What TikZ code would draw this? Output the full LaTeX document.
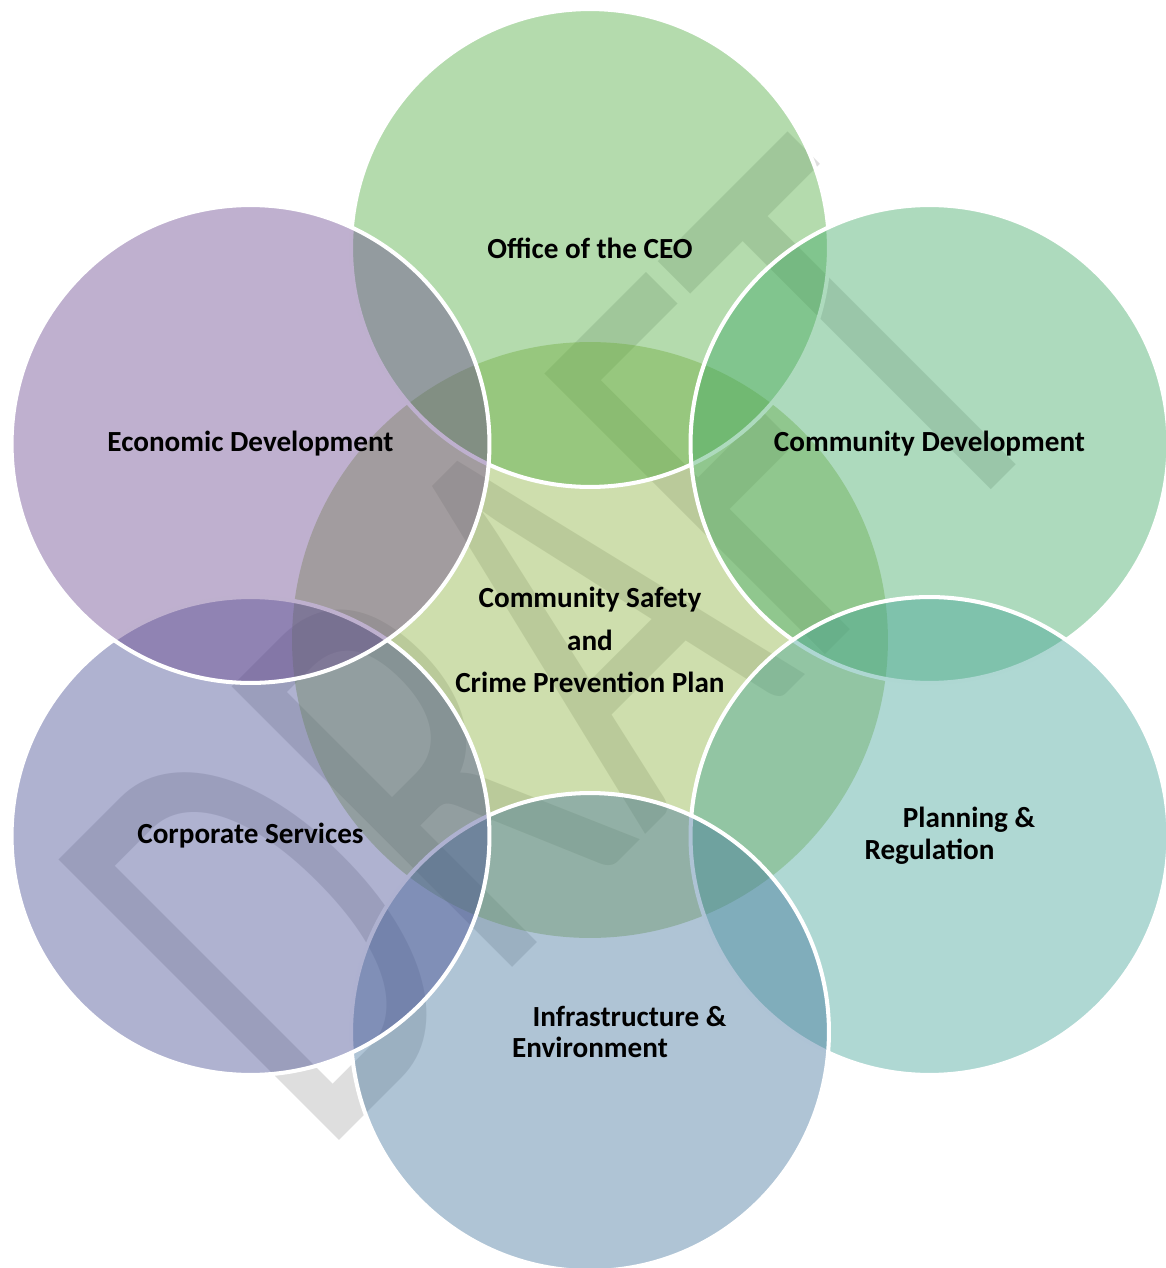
\documentclass[tikz,border=0pt]{standalone}
\usepackage{fontspec}
\setmainfont{Carlito}
\newfontfamily\wmfont{Carlito}

\definecolor{wmgray}{RGB}{222,222,222}
\definecolor{hubgreen}{RGB}{138,176,60}
\definecolor{ceogreen}{RGB}{76,169,60}
\definecolor{commgreen}{RGB}{60,167,98}
\definecolor{planteal}{RGB}{64,162,150}
\definecolor{infrablue}{RGB}{64,114,155}
\definecolor{corpblue}{RGB}{64,71,143}
\definecolor{econpurple}{RGB}{102,67,140}

\begin{document}
\begin{tikzpicture}[
        x=0.02cm, y=0.02cm,
        every node/.style={font=\bfseries\fontsize{16.6}{18.1}\selectfont, align=center},
        watermark/.style={rotate=45, inner sep=0pt, text=wmgray, font=\wmfont\fontsize{352}{352}\selectfont},
        hub/.style={circle, inner sep=0pt, minimum size=11.92cm, fill=hubgreen, fill opacity=0.42, text opacity=1,
            font=\bfseries\fontsize{16.6}{24.4}\selectfont},
        unit/.style={circle, inner sep=0pt, minimum size=9.56cm, draw=white, line width=2.3pt, fill opacity=0.42, text opacity=1}
    ]
        \useasboundingbox (-590,-628) rectangle (576,640);
        \clip (-590,-628) rectangle (576,640);

        % Watermark behind everything
        \node[watermark] (draft) at (-34,-4) {\scalebox{0.64}[1]{DRAFT}};

        % Centre of the diagram
        \node[hub] (hub) at (0,0) {Community Safety\\and\\Crime Prevention Plan};

        % The six directorates, clockwise from the top
        \node[unit, fill=ceogreen] (ceo) at (90:392) {Office of the CEO};
        \node[unit, fill=commgreen] (comm) at (30:392) {Community Development};
        \node[unit, fill=planteal] (plan) at (-30:392) {\hspace*{45pt}Planning \&\\Regulation};
        \node[unit, fill=infrablue] (infra) at (-90:392) {\hspace*{45pt}Infrastructure \&\\Environment};
        \node[unit, fill=corpblue] (corp) at (-150:392) {Corporate Services};
        \node[unit, fill=econpurple] (econ) at (150:392) {Economic Development};
    \end{tikzpicture}
\end{document}
